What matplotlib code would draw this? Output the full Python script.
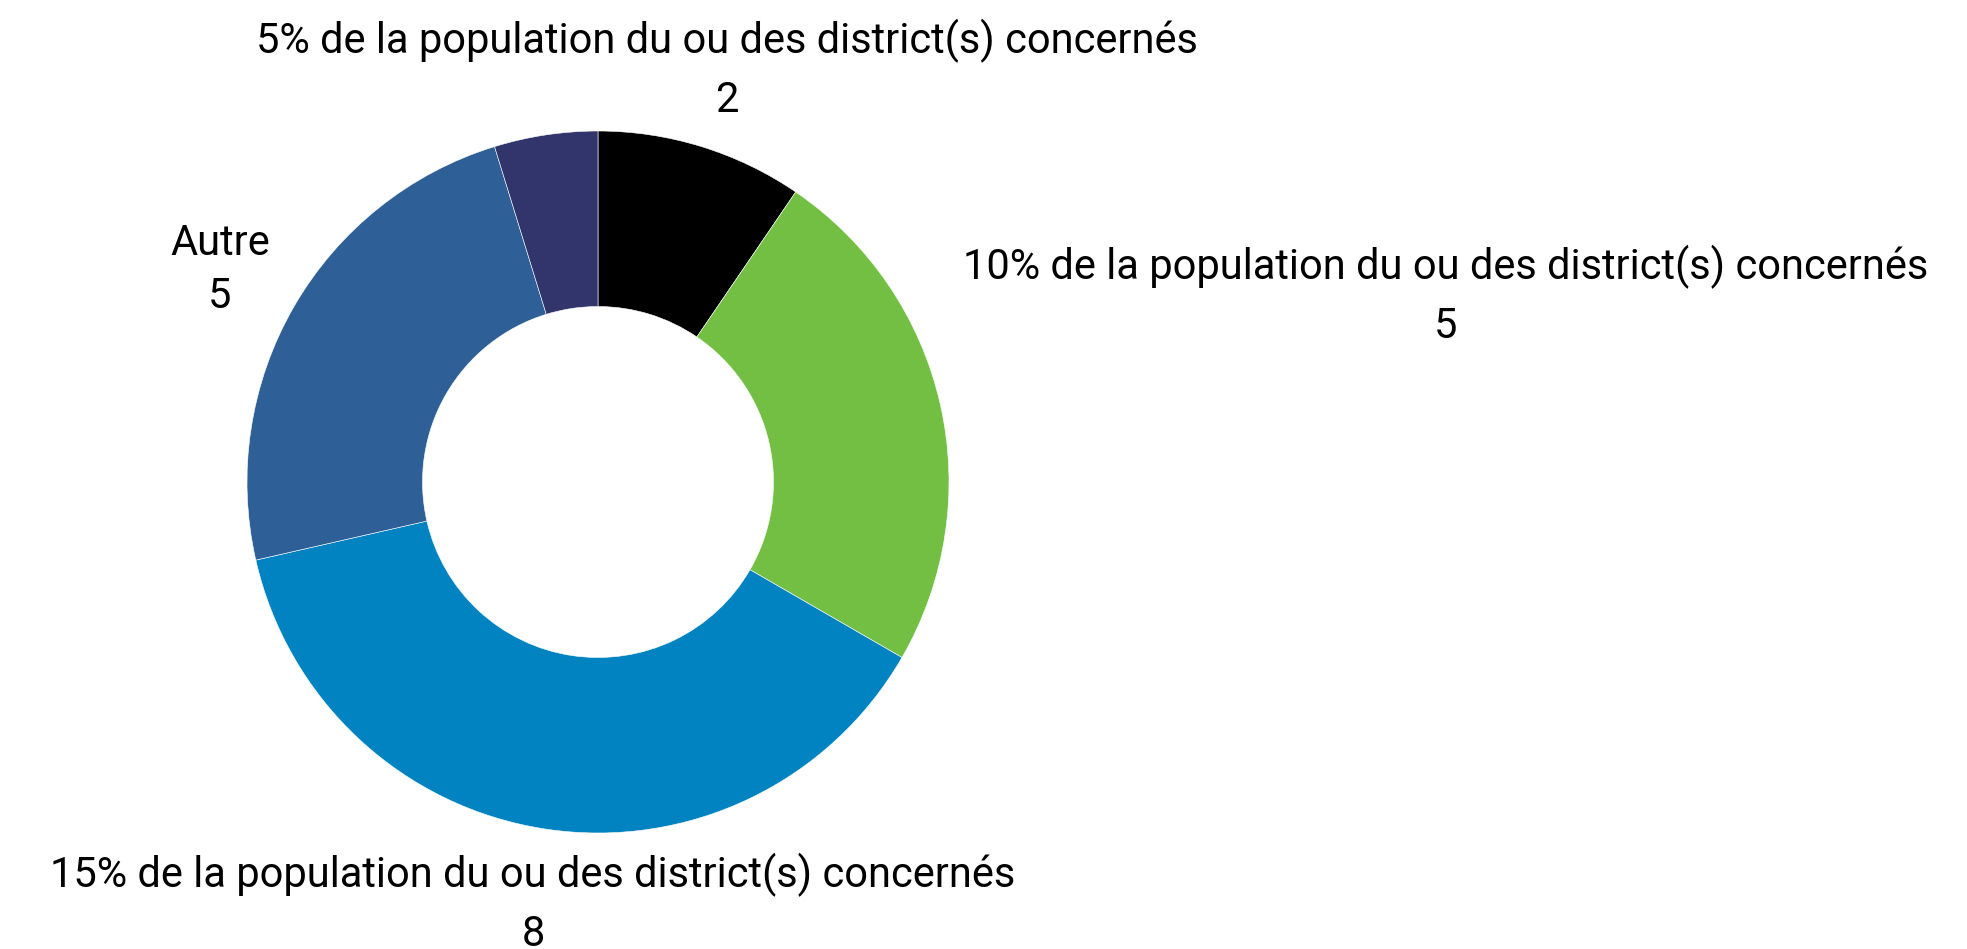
import matplotlib.pyplot as plt

categories = ['5% de la population du ou des district(s) concernés',
              '10% de la population du ou des district(s) concernés',
              '15% de la population du ou des district(s) concernés',
              'Autre',
              '']
values = [2, 5, 8, 5, 1]
colors = ['#000000', '#72BF44', '#0083C0', '#2E5F96', '#31356B']

# label anchor points in pixel coords (x, y from top)
label_pos = [(727, 70), (1446, 296), (533, 904), (220, 270), None]

W, H = 1967, 949
fig = plt.figure(figsize=(W / 100, H / 100), dpi=100)
ax = fig.add_axes([0, 0, 1, 1])

cx, cy, r = 598, H - 482, 351
ax.pie(values, colors=colors, startangle=90, counterclock=False,
       center=(cx, cy), radius=r, frame=True,
       wedgeprops=dict(width=r * 0.5, edgecolor='white', linewidth=0.4))
ax.set_xlim(0, W)
ax.set_ylim(0, H)
ax.set_aspect('equal')
ax.axis('off')

for cat, v, pos in zip(categories, values, label_pos):
    if pos is None:
        continue
    ls = 1.4 if cat == 'Autre' else 1.52
    ax.text(pos[0], H - pos[1], f'{cat}\n{v}', ha='center', va='center',
            fontsize=30, family='Roboto', linespacing=ls, color='black')

fig.savefig('out.png', dpi=100)
